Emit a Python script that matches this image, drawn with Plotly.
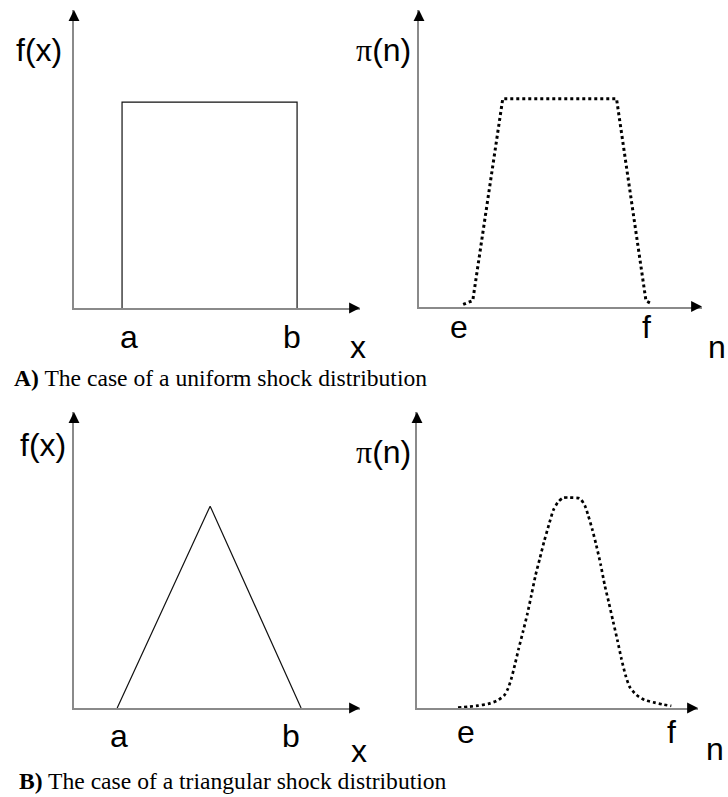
import plotly.graph_objects as go

W, H = 728, 797

# Uniform shock density f(x) on [a, b]
unif_x = [16.8, 16.8, 78.0, 78.0]
unif_y = [0.0, 69.1, 69.1, 0.0]

# Resulting trapezoid-shaped pi(n)
trap_n = [15.6, 19.0, 29.6, 69.8, 80.2, 82.3]
trap_p = [0.7, 2.0, 70.1, 70.1, 1.9, 0.9]

# Triangular shock density f(x)
tri_x = [15.1, 47.6, 79.4]
tri_y = [0.0, 68.2, 0.0]

# Resulting bell-shaped pi(n)
bell_n = [14.6, 18.1, 21.7, 25.3, 28.3, 31.0, 32.4, 33.6, 34.8, 36.2, 37.7,
          39.3, 40.7, 42.2, 43.7, 45.2, 46.9, 48.5, 50.2, 52.0, 54.3, 57.9,
          59.7, 60.9, 62.3, 63.8, 65.4, 66.8, 68.2, 69.8, 71.3, 72.7, 74.2,
          75.7, 78.1, 81.0, 84.6, 87.5, 90.5]
bell_p = [0.1, 0.4, 0.8, 1.4, 2.4, 4.2, 6.6, 10.0, 14.5, 20.1, 25.7,
          31.9, 38.1, 44.9, 50.5, 56.1, 61.8, 66.8, 69.6, 71.0, 71.1, 70.8,
          68.5, 65.1, 60.6, 55.0, 48.3, 41.5, 35.9, 29.2, 23.0, 16.8, 11.1,
          7.1, 4.4, 2.7, 1.8, 1.2, 0.7]

SANS = "Liberation Sans, Arial, sans-serif"
SERIF = "Liberation Serif, Times New Roman, serif"
AXIS_GRAY = "#8a8a8a"


def px_dom(x0, x1):
    return [x0 / W, x1 / W]


def py_dom(top, bottom):
    return [1 - bottom / H, 1 - top / H]


# panel frames: (x-axis left, x-axis tip, y-axis tip, x-axis level) in px
panels = [
    (74, 360, 10, 308),
    (419, 702, 10, 306.5),
    (74, 360, 412, 708),
    (417, 698, 412, 708),
]

fig = go.Figure()
layout = dict(width=W, height=H, margin=dict(l=0, r=0, t=0, b=0),
              paper_bgcolor="white", plot_bgcolor="white", showlegend=False)

annotations = []
for i, (xl, xt, yt, yb) in enumerate(panels, start=1):
    sx = "" if i == 1 else str(i)
    layout["xaxis" + sx] = dict(domain=px_dom(xl, xt), range=[0, 100],
                                anchor="y" + sx, showline=True,
                                linecolor=AXIS_GRAY, linewidth=1.5,
                                showgrid=False, zeroline=False,
                                showticklabels=False, ticks="",
                                fixedrange=True)
    layout["yaxis" + sx] = dict(domain=py_dom(yt, yb), range=[0, 100],
                                anchor="x" + sx, showline=True,
                                linecolor=AXIS_GRAY, linewidth=1.5,
                                showgrid=False, zeroline=False,
                                showticklabels=False, ticks="",
                                fixedrange=True)
    arrow = dict(text="", showarrow=True, arrowhead=2, arrowsize=1.45,
                 arrowwidth=1.5, arrowcolor="black", standoff=0,
                 xref="x" + sx, yref="y" + sx)
    annotations.append(dict(arrow, x=100, y=0, ax=-8, ay=0))
    annotations.append(dict(arrow, x=0, y=100, ax=0, ay=8))

line_solid = dict(color="#111111", width=1.2)
dot_line = dict(color="black", width=3.0, dash="3px,3px")

fig.add_trace(go.Scatter(x=unif_x, y=unif_y, mode="lines", line=line_solid,
                         xaxis="x", yaxis="y", hoverinfo="skip"))
fig.add_trace(go.Scatter(x=trap_n, y=trap_p, mode="lines", line=dot_line,
                         xaxis="x2", yaxis="y2", hoverinfo="skip"))
fig.add_trace(go.Scatter(x=tri_x, y=tri_y, mode="lines", line=line_solid,
                         xaxis="x3", yaxis="y3", hoverinfo="skip"))
fig.add_trace(go.Scatter(x=bell_n, y=bell_p, mode="lines",
                         line=dict(dot_line, width=2.7, shape="spline",
                                   smoothing=0.6),
                         xaxis="x4", yaxis="y4", hoverinfo="skip"))


def label(text, cx, base, size=32, family=SANS, anchor="center", k=0.35):
    ymid = base - k * size
    return dict(text=text, x=cx / W, y=1 - ymid / H, xref="paper",
                yref="paper", xanchor=anchor, yanchor="middle",
                showarrow=False, font=dict(family=family, size=size,
                                           color="black"))


PI = '<span style="font-family:Liberation Serif">π</span>(n)'

annotations += [
    label("f(x)", 39, 61),
    label("a", 129, 348),
    label("b", 292, 348),
    label("x", 357.5, 358),
    label(PI, 413, 61.5, anchor="right"),
    label("e", 459, 338),
    label("f", 646, 338),
    label("n", 717, 358),
    label("f(x)", 42.5, 456),
    label("a", 118.5, 747),
    label("b", 291, 747),
    label("x", 358.5, 762),
    label(PI, 413, 463, anchor="right"),
    label("e", 466, 743),
    label("f", 671, 743),
    label("n", 715, 760),
    label("<b>A)</b> The case of a uniform shock distribution", 12, 386,
          size=23.6, family=SERIF, anchor="left", k=0.3375),
    label("<b>B)</b> The case of a triangular shock distribution", 17, 789,
          size=23.6, family=SERIF, anchor="left", k=0.3375),
]

layout["annotations"] = annotations
fig.update_layout(**layout)
fig.write_html("out.html")
